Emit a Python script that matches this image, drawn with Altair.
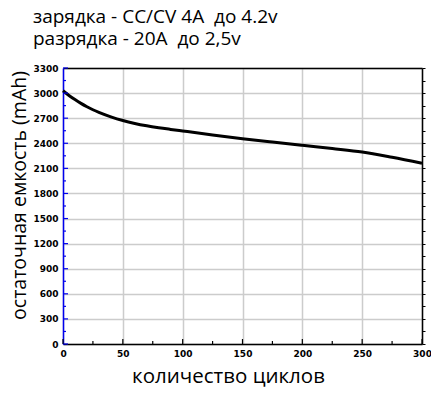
import altair as alt
import pandas as pd

cycles = [0, 5, 10, 15, 20, 25, 30, 40, 50, 60, 70, 80, 90, 100, 125, 150, 175, 200, 225, 250, 275, 300]
capacity = [3028, 2972, 2922, 2877, 2837, 2801, 2769, 2716, 2672, 2637, 2609, 2586, 2566, 2547, 2500, 2455, 2414, 2375, 2337, 2296, 2233, 2162]

x_major = [0, 50, 100, 150, 200, 250, 300]
x_minor = [25, 75, 125, 175, 225, 275]
y_major = [0, 300, 600, 900, 1200, 1500, 1800, 2100, 2400, 2700, 3000, 3300]
y_minor = [150, 450, 750, 1050, 1350, 1650, 1950, 2250, 2550, 2850, 3150]
y_all = sorted(y_major + y_minor)

title_lines = ["зарядка - CC/CV 4A\u00a0\u00a0до 4.2v", "разрядка - 20A\u00a0\u00a0до 2,5v"]
x_title = "количество циклов"
y_title = "остаточная емкость (mAh)"

W, H = 359, 276

df = pd.DataFrame({"cycles": cycles, "capacity": capacity})
xs = alt.Scale(domain=[0, 300], nice=False, zero=False)
ys = alt.Scale(domain=[0, 3300], nice=False, zero=False)

lab = dict(labelFont="DejaVu Sans", labelFontWeight="bold", labelFontSize=9,
           labelColor="black", labelFlush=False, labelOverlap=False, format="d")
ttl = dict(titleFont="Open Sans", titleFontWeight="normal", titleColor="black")

line = alt.Chart(df).mark_line(color="black", strokeWidth=3, interpolate="monotone").encode(
    x=alt.X("cycles:Q", scale=xs, axis=alt.Axis(
        values=x_major, title=x_title, grid=True, gridColor="#cccccc", gridWidth=1.5,
        domainColor="black", domainWidth=1.5, ticks=False, labelPadding=5, titlePadding=8,
        titleFontSize=20.5, titleX=165, titleAlign="center", **lab, **ttl)),
    y=alt.Y("capacity:Q", scale=ys, axis=alt.Axis(
        values=y_major, title=y_title, grid=True, gridColor="#cccccc", gridWidth=1.5,
        domainColor="#0000ee", domainWidth=1.5, ticks=False, labelPadding=5, titlePadding=3,
        titleFontSize=19.5, titleY=127, titleAlign="center", **lab, **ttl)),
)

frame = alt.Chart(df).mark_point(opacity=0).encode(
    x=alt.X("cycles:Q", scale=xs, axis=alt.Axis(
        orient="top", labels=False, ticks=False, grid=False, domainColor="black",
        domainWidth=1.5, title=None)),
    y=alt.Y("capacity:Q", scale=ys, axis=alt.Axis(
        orient="right", values=y_all, labels=False, tickColor="black", tickSize=3,
        grid=False, domainColor="black", domainWidth=1.5, title=None)),
)

def yticks(vals, length):
    return alt.Chart(pd.DataFrame({"v": vals})).mark_rule(color="#0000ee", strokeWidth=1.2).encode(
        y=alt.Y("v:Q", scale=ys, axis=None), x=alt.value(0), x2=alt.value(length))

def xticks(vals, length):
    return alt.Chart(pd.DataFrame({"v": vals})).mark_rule(color="black", strokeWidth=1.2).encode(
        x=alt.X("v:Q", scale=xs, axis=None), y=alt.value(H), y2=alt.value(H - length))

chart = alt.layer(
    line, frame, yticks(y_major, 5), yticks(y_minor, 3), xticks(x_major, 5), xticks(x_minor, 3)
).resolve_axis(x="independent", y="independent").properties(
    width=W, height=H,
    autosize=alt.AutoSizeParams(type="none"),
    padding={"left": 55, "top": 60, "right": 9, "bottom": 44},
    title=alt.TitleParams(text=title_lines, anchor="start", frame="group", dx=-30, fontSize=19,
                          font="Open Sans", fontWeight="normal", color="black", lineHeight=22, offset=15),
).configure_view(stroke=None).configure(background="white")

chart.save("out.html", embed_options={"renderer": "svg", "actions": False})
